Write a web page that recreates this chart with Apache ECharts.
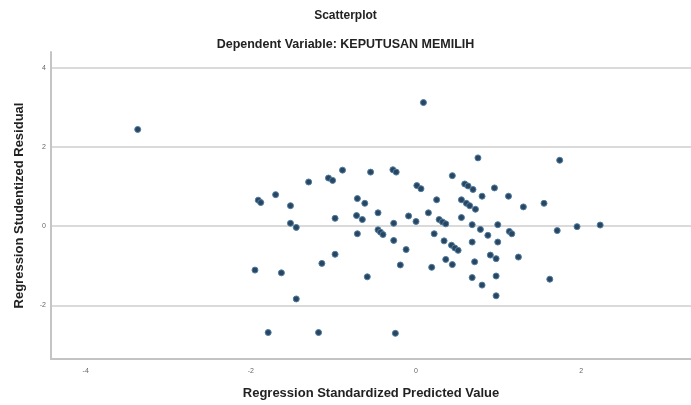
<!DOCTYPE html>
<html>
<head>
<meta charset="utf-8">
<script src="https://cdn.jsdelivr.net/npm/echarts@6/dist/echarts.min.js"></script>
<style>
html,body{margin:0;padding:0;background:#fff;}
#chart{width:691px;height:405px;}
</style>
</head>
<body>
<div id="chart"></div>
<script>
// Regression Standardized Predicted Value (x)
var predictedValues = [
 -3.37,-0.89,-1.30,-1.06,-1.01,-1.70,-1.91,-1.88,-1.52,-0.98,
 -1.52,-1.45,-1.95,-1.63,-1.14,-0.98,-1.45,-1.79,-1.18,0.09,
 0.75,-0.55,-0.28,-0.24,0.44,0.01,0.06,0.59,0.63,0.69,
 0.95,0.80,1.12,0.25,-0.71,-0.62,0.55,0.61,0.65,0.72,
 1.30,-0.46,0.15,-0.09,0.00,-0.72,-0.65,-0.27,0.28,0.32,
 0.36,0.55,0.68,0.99,-0.71,-0.46,-0.43,-0.40,-0.27,0.22,
 0.34,0.78,0.87,1.13,1.16,0.99,0.68,0.43,0.47,0.51,
 -0.12,-0.19,0.19,0.36,0.44,0.71,0.90,0.97,1.24,-0.59,
 0.68,0.80,0.97,0.97,-0.25,1.74,1.55,1.71,1.95,2.23,
 1.62
];
// Regression Studentized Residual (y)
var residuals = [
 2.45,1.42,1.12,1.22,1.16,0.80,0.66,0.60,0.52,0.20,
 0.075,-0.03,-1.11,-1.18,-0.94,-0.71,-1.84,-2.69,-2.69,3.13,
 1.73,1.37,1.43,1.37,1.28,1.03,0.95,1.07,1.02,0.93,
 0.97,0.76,0.76,0.67,0.70,0.58,0.67,0.58,0.52,0.43,
 0.49,0.34,0.34,0.26,0.12,0.27,0.17,0.075,0.17,0.11,
 0.06,0.22,0.04,0.04,-0.19,-0.09,-0.15,-0.21,-0.36,-0.19,
 -0.37,-0.08,-0.23,-0.13,-0.19,-0.40,-0.40,-0.48,-0.55,-0.61,
 -0.59,-0.98,-1.04,-0.84,-0.97,-0.90,-0.73,-0.82,-0.78,-1.28,
 -1.30,-1.49,-1.26,-1.76,-2.71,1.67,0.58,-0.11,-0.01,0.03,
 -1.34
];
var xTicks = [-4, -2, 0, 2];
var yTicks = [-2, 0, 2, 4];
var titleText = "Scatterplot";
var subtitleText = "Dependent Variable: KEPUTUSAN MEMILIH";
var xName = "Regression Standardized Predicted Value";
var yName = "Regression Studentized Residual";

var points = predictedValues.map(function (x, i) { return [x, residuals[i]]; });
var font = "'Liberation Sans', Arial, sans-serif";

var chart = echarts.init(document.getElementById('chart'), null, {renderer: 'canvas'});
chart.setOption({
  animation: false,
  backgroundColor: '#ffffff',
  title: [
    {text: titleText, left: 'center', top: 5,
     textStyle: {fontFamily: font, fontSize: 12, fontWeight: 'bold', color: '#222'}},
    {text: subtitleText, left: 'center', top: 33,
     textStyle: {fontFamily: font, fontSize: 12.5, fontWeight: 'bold', color: '#222'}}
  ],
  grid: {left: 51, right: 0, top: 52, bottom: 42, containLabel: false},
  xAxis: {
    type: 'value', min: -4.42, max: 3.33,
    name: xName, nameLocation: 'middle', nameGap: 28,
    nameTextStyle: {fontFamily: font, fontSize: 13, fontWeight: 'bold', color: '#222'},
    axisLine: {show: true, onZero: false, lineStyle: {color: '#c4c4c4', width: 2}},
    axisTick: {show: false, customValues: xTicks},
    axisLabel: {customValues: xTicks, fontFamily: font, fontSize: 7, color: '#666', margin: 9},
    splitLine: {show: false}
  },
  yAxis: {
    type: 'value', min: -3.36, max: 4.41,
    name: yName, nameLocation: 'middle', nameGap: 25, nameRotate: 90,
    nameTextStyle: {fontFamily: font, fontSize: 13, fontWeight: 'bold', color: '#222'},
    axisLine: {show: true, onZero: false, lineStyle: {color: '#c4c4c4', width: 2}},
    axisTick: {show: false, customValues: yTicks},
    axisLabel: {customValues: yTicks, fontFamily: font, fontSize: 7, color: '#666', margin: 5},
    splitLine: {show: true, lineStyle: {color: '#dadada', width: 2}}
  },
  series: [{
    type: 'scatter',
    data: points,
    symbol: 'circle',
    symbolSize: 6,
    itemStyle: {color: '#2a4560', borderColor: '#4f7ea3', borderWidth: 1, opacity: 1}
  }]
});
</script>
</body>
</html>
